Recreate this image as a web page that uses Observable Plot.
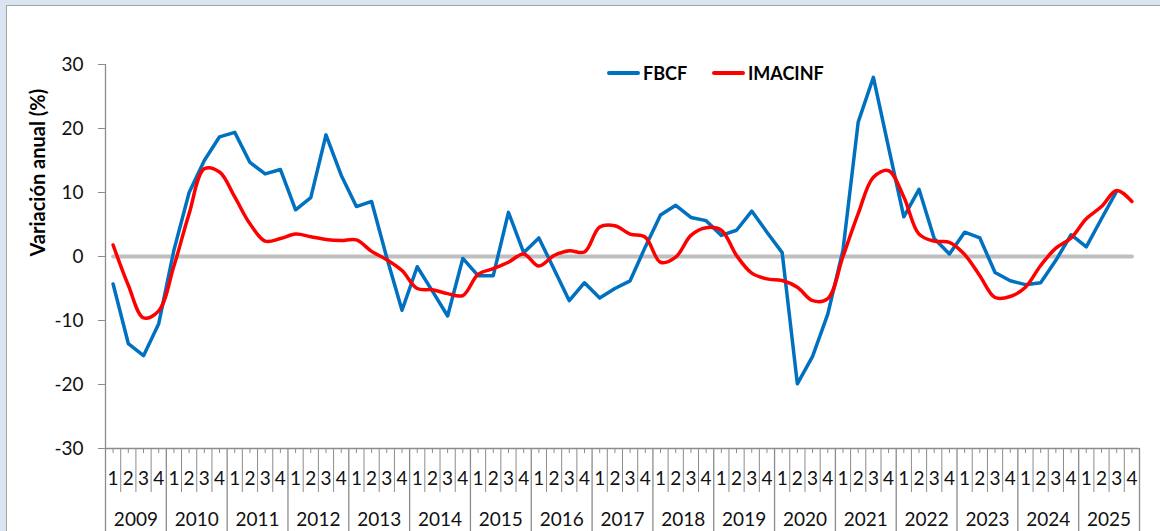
<!DOCTYPE html>
<html>
<head>
<meta charset="utf-8">
<script src="https://cdn.jsdelivr.net/npm/d3@7"></script>
<script src="https://cdn.jsdelivr.net/npm/@observablehq/plot@0.6"></script>
<style>
  html, body { margin: 0; padding: 0; }
  body { width: 1160px; height: 531px; background: #dbe5f1; position: relative; overflow: hidden; font-family: Lato, "Open Sans", sans-serif; }
  #frame { position: absolute; left: 6px; top: 5px; width: 1160px; height: 540px; background: #fff; border-left: 1px solid #a6a6a6; border-top: 1px solid #a6a6a6; }
  #chart { position: absolute; left: 0; top: 0; }
  .leg { position: absolute; top: 62px; height: 22px; display: flex; align-items: center; font-weight: bold; font-size: 18px; color: #000; }
  .leg span.sw { display: inline-block; width: 33px; height: 4px; border-radius: 2px; margin-right: 3px; }
</style>
</head>
<body>
<div id="frame"></div>
<div id="chart"></div>
<div class="leg" style="left:607px"><span class="sw" style="background:#0070C0"></span>FBCF</div>
<div class="leg" style="left:712px"><span class="sw" style="background:#FF0000"></span>IMACINF</div>
<script>
// ---- data ----
const years = ["2009","2010","2011","2012","2013","2014","2015","2016","2017","2018","2019","2020","2021","2022","2023","2024","2025"];
const quarterLabels = ["1","2","3","4"];
const yTicks = [-30, -20, -10, 0, 10, 20, 30];
const fbcf = [
  -4.3, -13.6, -15.5, -10.5,
  1.0, 10.0, 15.0, 18.7,
  19.4, 14.7, 12.9, 13.6,
  7.3, 9.2, 19.0, 12.7,
  7.8, 8.6, -0.2, -8.4,
  -1.6, -5.4, -9.3, -0.3,
  -3.0, -3.0, 6.9, 0.6,
  2.9, -2.0, -6.9, -4.1,
  -6.5, -5.0, -3.8, 1.5,
  6.5, 8.0, 6.1, 5.6,
  3.3, 4.1, 7.1, 3.8,
  0.6, -19.9, -15.6, -9.0,
  1.0, 21.0, 28.0, 17.0,
  6.2, 10.5, 2.8, 0.4,
  3.8, 2.9, -2.5, -3.8,
  -4.4, -4.1, -0.6, 3.4,
  1.5, 5.9, 10.2, null
];
const imacinf = [
  1.8, -4.5, -9.6, -8.5,
  -1.5, 6.7, 13.7, 13.2,
  9.3, 5.1, 2.4, 2.8,
  3.5, 3.1, 2.65, 2.5,
  2.6, 0.8, -0.5, -2.2,
  -5.0, -5.2, -5.8, -6.1,
  -2.8, -1.9, -0.9, 0.4,
  -1.5, 0.15, 0.9, 0.7,
  4.6, 4.8, 3.5, 3.0,
  -0.9, -0.1, 3.3, 4.5,
  4.1, 0.15, -2.6, -3.5,
  -3.75, -4.8, -6.9, -6.6,
  0.0, 6.7, 12.4, 13.4,
  9.3, 3.5, 2.4, 2.2,
  0.3, -3.0, -6.4, -6.25,
  -4.8, -1.4, 1.3, 2.9,
  5.9, 7.8, 10.3, 8.6
];

// ---- derived tables ----
const n = years.length * quarterLabels.length;
const rows = d3.range(n).map(i => ({
  i, pos: i + 0.5,
  q: quarterLabels[i % 4],
  fbcf: fbcf[i], imacinf: imacinf[i], zero: 0
}));
const yearRows = years.map((y, k) => ({year: y, pos: k * 4 + 2}));
const yearBounds = d3.range(years.length + 1).map(k => k * 4);
const quarterBounds = d3.range(n + 1).filter(b => b % 4 !== 0);

const axisGray = "#8c8c8c";

const chart = Plot.plot({
  width: 1160,
  height: 531,
  marginLeft: 105,
  marginRight: 21,
  marginTop: 64,
  marginBottom: 83,
  style: {background: "transparent", fontFamily: "Lato, 'Open Sans', sans-serif", fontSize: "19px", color: "#000"},
  x: {domain: [0, n], axis: null},
  y: {domain: [-30, 30], axis: null},
  marks: [
    Plot.axisY({ticks: yTicks, tickFormat: d => String(d), tickSize: 7, tickPadding: 15, stroke: axisGray, fill: "#111", fontSize: 19, label: null}),
    Plot.ruleX([0], {stroke: axisGray, strokeWidth: 1.3}),
    Plot.ruleY([-30], {stroke: axisGray, strokeWidth: 1.3}),
    // year separators
    Plot.ruleX(yearBounds, {x: d => d, y1: -30, y2: -30, insetBottom: -83, stroke: axisGray, strokeWidth: 1.3}),
    // quarter separators
    Plot.ruleX(quarterBounds, {x: d => d, y1: -30, y2: -30, insetBottom: -44, stroke: axisGray, strokeWidth: 1}),
    // small tick marks at quarter centers
    Plot.ruleX(rows, {x: "pos", y1: -30, y2: -30, insetBottom: -5, stroke: axisGray, strokeWidth: 1}),
    Plot.text(rows, {x: "pos", y: -30, dy: 30, text: "q", fontSize: 19, fill: "#111"}),
    Plot.text(yearRows, {x: "pos", y: -30, dy: 71, text: "year", fontSize: 19, fill: "#111"}),
    Plot.text(["Variación anual (%)"], {frameAnchor: "left", dx: -67, rotate: -90, fontWeight: "bold", fontSize: 20, fill: "#000"}),
    // series
    Plot.lineY(rows, {x: "pos", y: "zero", stroke: "#bfbfbf", strokeWidth: 4}),
    Plot.lineY(rows, {x: "pos", y: "fbcf", stroke: "#0070C0", strokeWidth: 3.5, strokeLinejoin: "round"}),
    Plot.lineY(rows, {x: "pos", y: "imacinf", stroke: "#FF0000", strokeWidth: 3.5, curve: "catmull-rom"})
  ]
});
document.getElementById("chart").appendChild(chart);
</script>
</body>
</html>
